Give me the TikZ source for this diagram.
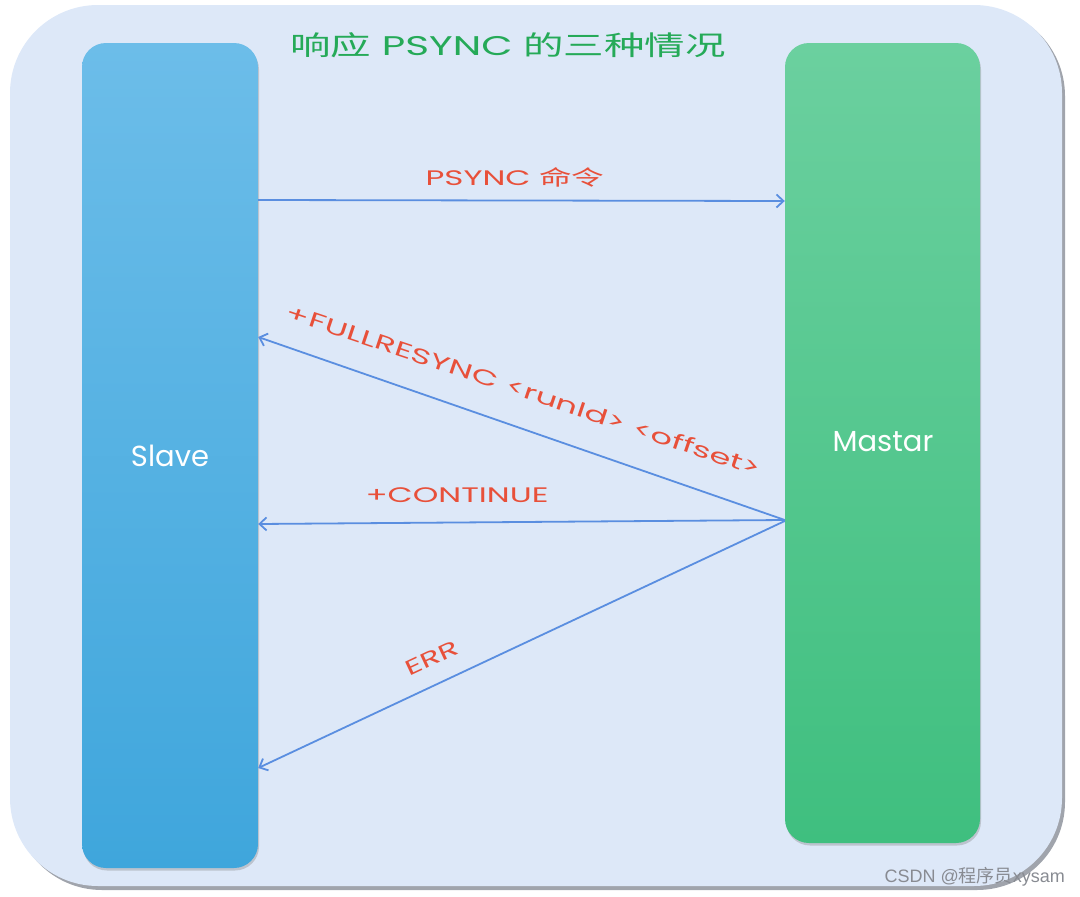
\documentclass[tikz,border=0pt]{standalone}
\usepackage{fontspec}
\setmainfont{Poppins}
\newfontfamily\cjk{Noto Sans CJK SC}
\newfontfamily\markfont{Liberation Sans}
\usetikzlibrary{arrows.meta,positioning,calc,shadows}
\definecolor{PageBg}{HTML}{DDE8F8}
\definecolor{EdgeGray}{HTML}{A0A4AC}
\definecolor{SlaveTop}{HTML}{6CBDE9}
\definecolor{SlaveBot}{HTML}{3FA6DC}
\definecolor{MasterTop}{HTML}{6BD09F}
\definecolor{MasterBot}{HTML}{3FBF7F}
\definecolor{Wire}{HTML}{5A8EE0}
\definecolor{Note}{HTML}{E8503A}
\definecolor{Heading}{HTML}{25AA58}

\begin{document}
\begin{tikzpicture}[
        x=1pt, y=-1pt,
        every node/.style={inner sep=0pt},
        bar/.style={rounded corners=24pt, drop shadow={opacity=0.35, shadow xshift=1pt, shadow yshift=-2.5pt}},
        barlabel/.style={text=white, font=\fontsize{29}{32}\selectfont},
        msg/.style={text=Note, font=\fontsize{21}{25}\selectfont, xscale=1.55, transform shape},
        arrow/.style={-{Straight Barb[length=7pt, width=13pt]}, line width=1.8pt, draw=Wire}
    ]
        \useasboundingbox (0,0) rectangle (1080,897);
        % page
        \fill[EdgeGray, rounded corners=88pt] (14,8) rectangle (1065,890);
        \fill[PageBg, rounded corners=88pt] (10,5) rectangle (1062,886);

        \node[bar, minimum width=176pt, minimum height=825pt, top color=SlaveTop, bottom color=SlaveBot] (slave) at (170,455.5) {};
        \node[bar, minimum width=195pt, minimum height=800pt, top color=MasterTop, bottom color=MasterBot] (master) at (882.5,443) {};
        \node[barlabel] (slavetxt) at (slave.center) {Slave};
        \node[barlabel] (mastertxt) at (883,442) {Mastar};

        \node[text=Heading, font=\fontsize{27}{30}\selectfont, xscale=1.5, transform shape] (title) at (508,45) {{\cjk 响应} PSYNC {\cjk 的三种情况}};

        \draw[arrow] (slave.east |- 0,200) -- (master.west |- 0,201);
        \draw[arrow] (master.west |- 0,520) -- (slave.east |- 0,337);
        \draw[arrow] (master.west |- 0,520) -- (slave.east |- 0,524);
        \draw[arrow] (master.west |- 0,521) -- (slave.east |- 0,768);

        \node[msg] (psync) at (515,177) {PSYNC {\cjk 命令}};
        \node[rotate=-18.5, msg, xscale=1.05] (full) at (524,390) {+FULLRESYNC <runId> <offset>};
        \node[msg] (cont) at (457,495) {+CONTINUE};
        \node[rotate=25, msg] (err) at (432,658) {ERR};

        \node[text=EdgeGray!85!black, font=\markfont\fontsize{18}{20}\selectfont, anchor=east] (mark) at (1065,877) {CSDN @{\cjk 程序员}xysam};
    \end{tikzpicture}
\end{document}
